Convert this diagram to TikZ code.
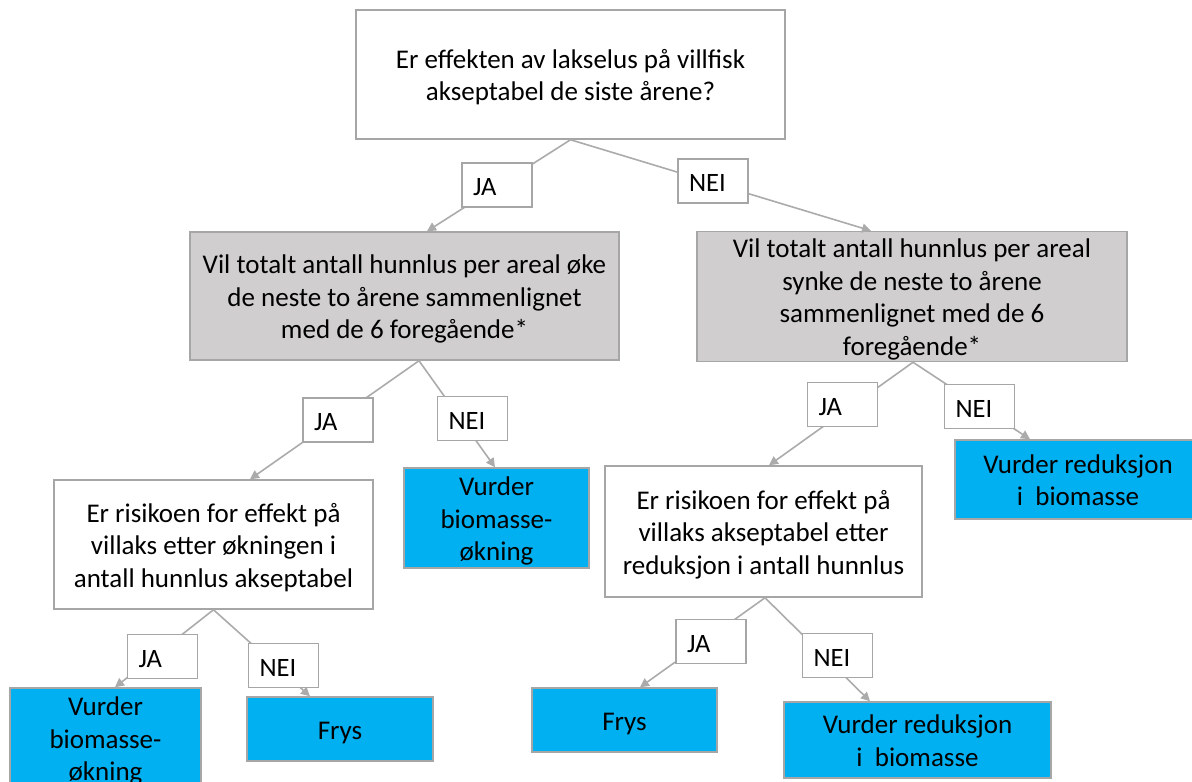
\documentclass[tikz,border=0pt]{standalone}
\usepackage{fontspec}
\setmainfont{Carlito}
\usetikzlibrary{arrows.meta}
\definecolor{bordergray}{HTML}{A6A6A6}
\definecolor{boxgray}{HTML}{D0CECE}
\definecolor{boxblue}{HTML}{00B0F0}
\definecolor{linegray}{HTML}{ABABAB}
\newcommand\boxtxt[1]{\raisebox{-3.5pt}[\height][\depth]{\begin{tabular}{@{}c@{}}#1\end{tabular}}}
\begin{document}
\begin{tikzpicture}[x=1pt,y=-1pt,
 base/.style={draw=bordergray, line width=1.5pt, align=center, inner sep=0pt, font=\fontsize{27}{32.5}\selectfont, text=black},
 qbox/.style={base, fill=white},
 greybox/.style={base, fill=boxgray},
 bluebox/.style={base, fill=boxblue},
 lbl/.style={draw=bordergray, line width=1.5pt, fill=white, font=\fontsize{26.5}{30}\selectfont, text width=48pt, align=left, inner xsep=11pt, inner ysep=0pt, minimum height=44pt, text height=21pt, text depth=0pt},
 conn/.style={draw=linegray, line width=1.6pt, -{Triangle[length=9pt,width=9pt]}},
]
\useasboundingbox (0,0) rectangle (1192,782);
\clip (0,0) rectangle (1192,782);

% decision boxes
\node[qbox, minimum width=429pt, minimum height=129pt] (T) at (570.5,74.5)
  {\boxtxt{Er effekten av lakselus på villfisk\\akseptabel de siste årene?}};
\node[greybox, minimum width=429pt, minimum height=128pt] (G1) at (404.5,296)
  {\boxtxt{Vil totalt antall hunnlus per areal øke\\de neste to årene sammenlignet\\med de 6 foregående*}};
\node[greybox, minimum width=430pt, minimum height=129pt] (G2) at (912,296.5)
  {\boxtxt{Vil totalt antall hunnlus per areal\\synke de neste to årene\\sammenlignet med de 6\\foregående*}};
\node[qbox, minimum width=319pt, minimum height=129pt] (W1) at (213.5,544.5)
  {\boxtxt{Er risikoen for effekt på\\villaks etter økningen i\\antall hunnlus akseptabel}};
\node[bluebox, minimum width=185pt, minimum height=100pt] (B1) at (496.5,518)
  {\boxtxt{Vurder\\biomasse-\\økning}};
\node[qbox, minimum width=317pt, minimum height=131pt] (W2) at (763.5,531.5)
  {\boxtxt{Er risikoen for effekt på\\villaks akseptabel etter\\reduksjon i antall hunnlus}};
\node[bluebox, minimum width=246pt, minimum height=79pt] (B2) at (1078,479.5)
  {\boxtxt{Vurder reduksjon\\i\ \ biomasse}};
\node[bluebox, minimum width=191pt, minimum height=100pt] (B3) at (105.5,738)
  {\boxtxt{Vurder\\biomasse-\\økning}};
\node[bluebox, minimum width=186pt, minimum height=64pt] (F1) at (340,729) {\boxtxt{Frys}};
\node[bluebox, minimum width=185pt, minimum height=64pt] (F2) at (624.5,720) {\boxtxt{Frys}};
\node[bluebox, minimum width=267pt, minimum height=76pt] (B4) at (917.5,740)
  {\boxtxt{Vurder reduksjon\\i\ \ biomasse}};

% connectors
\draw[conn] (T.south) -- ([xshift=22.5pt]G1.north);
\draw[conn] (T.south) -- ([xshift=-41pt]G2.north);
\draw[conn] ([xshift=14.5pt]G1.south) -- ([xshift=36.5pt]W1.north);
\draw[conn] ([xshift=14.5pt]G1.south) -- ([xshift=-1.5pt]B1.north);
\draw[conn] ([xshift=1pt]G2.south) -- ([xshift=5.5pt]W2.north);
\draw[conn] ([xshift=1pt]G2.south) -- ([xshift=-48pt]B2.north);
\draw[conn] (W1.south) -- ([xshift=9.5pt]B3.north);
\draw[conn] (W1.south) -- ([xshift=-30pt]F1.north);
\draw[conn] ([xshift=1.5pt]W2.south) -- ([xshift=15.5pt]F2.north);
\draw[conn] ([xshift=1.5pt]W2.south) -- ([xshift=-47.5pt]B4.north);

% labels
\node[lbl] (ja1) at (497,185) {JA};
\node[lbl] (nei1) at (713,181) {NEI};
\node[lbl] (ja2) at (338,420) {JA};
\node[lbl] (nei2) at (472.5,418.5) {NEI};
\node[lbl] (ja3) at (162.5,656.5) {JA};
\node[lbl] (nei3) at (283.5,665.5) {NEI};
\node[lbl] (ja4) at (842.5,404.5) {JA};
\node[lbl] (nei4) at (979.5,406.5) {NEI};
\node[lbl] (ja5) at (711,641.5) {JA};
\node[lbl] (nei5) at (837.5,655.5) {NEI};
\end{tikzpicture}
\end{document}
